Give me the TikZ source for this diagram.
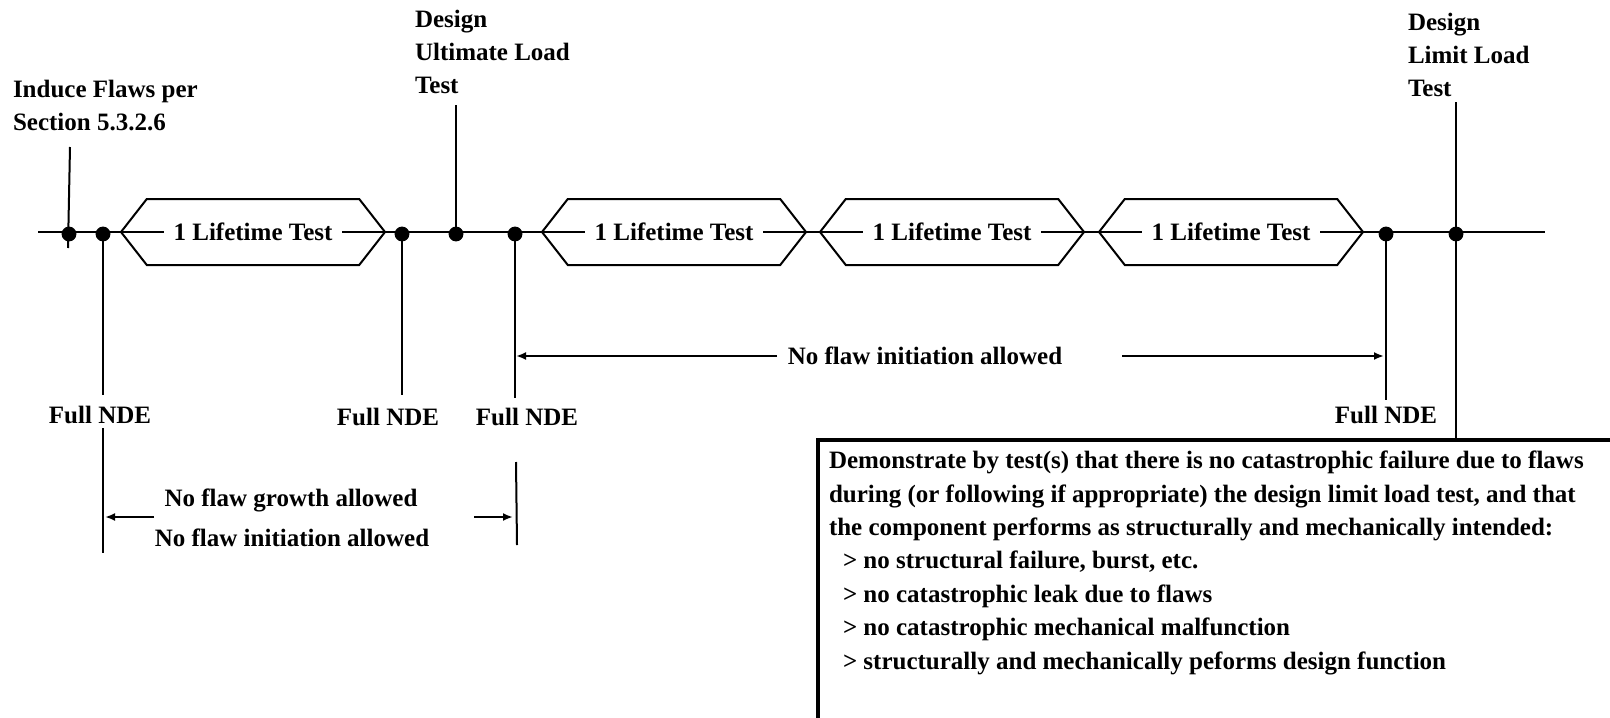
\documentclass[tikz,border=0pt]{standalone}
\usepackage{fontspec}
\setmainfont{Liberation Serif}
\usetikzlibrary{shapes.symbols,arrows.meta}
\tikzset{
  lbl/.style={inner sep=0pt, font=\fontsize{12.5}{16.5}\selectfont\bfseries},
  lifetime/.style={draw, signal, signal to=west and east, signal pointer angle=104,
    minimum width=132pt, minimum height=33pt, inner sep=0pt},
  lifetext/.style={lbl, fill=white, inner xsep=5pt, inner ysep=1pt},
  flow/.style={-{Latex[length=5pt,width=4pt]}}
}
\begin{document}
\begin{tikzpicture}[x=0.5pt,y=-0.5pt,line width=1pt]
                \useasboundingbox (0,0) rectangle (1610,717);
                \clip (0,0) rectangle (1610,717);
                % time line and its events
                \coordinate (tstart) at (38,232);
                \coordinate (tend) at (1545,232);
                \coordinate (induce) at (69,232);
                \coordinate (nde1) at (103,232);
                \coordinate (nde2) at (402,232);
                \coordinate (dul) at (456,232);
                \coordinate (nde3) at (515,232);
                \coordinate (nde4) at (1386,232);
                \coordinate (dll) at (1456,232);
                \coordinate (boxtl) at (818,440);
                \draw (tstart) -- (tend);
                % lifetime tests
                \node[lifetime] (life1) at (253,232) {};
                \node[lifetime] (life2) at (674,232) {};
                \node[lifetime] (life3) at (952,232) {};
                \node[lifetime] (life4) at (1231,232) {};
                \node[lifetext] (ltxt1) at (life1) {1 Lifetime Test};
                \node[lifetext] (ltxt2) at (life2) {1 Lifetime Test};
                \node[lifetext] (ltxt3) at (life3) {1 Lifetime Test};
                \node[lifetext] (ltxt4) at (life4) {1 Lifetime Test};
                \filldraw ([yshift=-1pt]induce) circle (3.2pt);
                \filldraw ([yshift=-1pt]nde1) circle (3.2pt);
                \filldraw ([yshift=-1pt]nde2) circle (3.2pt);
                \filldraw ([yshift=-1pt]dul) circle (3.2pt);
                \filldraw ([yshift=-1pt]nde3) circle (3.2pt);
                \filldraw ([yshift=-1pt]nde4) circle (3.2pt);
                \filldraw ([yshift=-1pt]dll) circle (3.2pt);
                % labels above
                \node[lbl, align=left, anchor=north west] (induceTxt) at (12,79) {Induce Flaws per\\Section 5.3.2.6};
                \node[lbl, align=left, anchor=north west] (dulTxt) at (414,9) {Design\\Ultimate Load\\Test};
                \node[lbl, align=left, anchor=north west] (dllTxt) at (1407,12) {Design\\Limit Load\\Test};
                \draw (70,147) -- (68,248);
                \draw (dul) -- ++(0,-127);
                \draw (dll) -- ++(0,-130);
                % NDE points
                \node[lbl] (ndeA) at (100,415) {Full NDE};
                \node[lbl] (ndeB) at (388,417) {Full NDE};
                \node[lbl] (ndeC) at (527,417) {Full NDE};
                \node[lbl] (ndeD) at (1386,415) {Full NDE};
                \draw (nde1) -- ++(0,163);
                \draw (103,428) -- (103,553);
                \draw (nde2) -- ++(0,163);
                \draw (nde3) -- ++(0,166);
                \draw (516,462) -- (517,545);
                \draw (nde4) -- ++(0,168);
                \draw (dll) -- (dll |- boxtl);
                % allowed ranges
                \node[lbl] (growTxt) at (291,500) {No flaw growth allowed};
                \node[lbl] (initTxtA) at (292,538) {No flaw initiation allowed};
                \draw[flow] (154,517) -- (105,517);
                \draw[flow] (474,517) -- (513,517);
                \node[lbl] (initTxtB) at (925,356) {No flaw initiation allowed};
                \draw[flow] (777,356) -- (516,356);
                \draw[flow] (1122,356) -- (1384,356);
                % requirement box
                \draw[line width=1.7pt] (boxtl) rectangle ++(830,300);
                \node[lbl, align=left, anchor=north west, font=\fontsize{12.5}{16.7}\selectfont\bfseries] (demoTxt) at (828,450)
                  {Demonstrate by test(s) that there is no catastrophic failure due to flaws\\
                   during (or following if appropriate) the design limit load test, and that\\
                   the component performs as structurally and mechanically intended:\\
                   \hspace*{7pt}> no structural failure, burst, etc.\\
                   \hspace*{7pt}> no catastrophic leak due to flaws\\
                   \hspace*{7pt}> no catastrophic mechanical malfunction\\
                   \hspace*{7pt}> structurally and mechanically peforms design function};
            \end{tikzpicture}
\end{document}
